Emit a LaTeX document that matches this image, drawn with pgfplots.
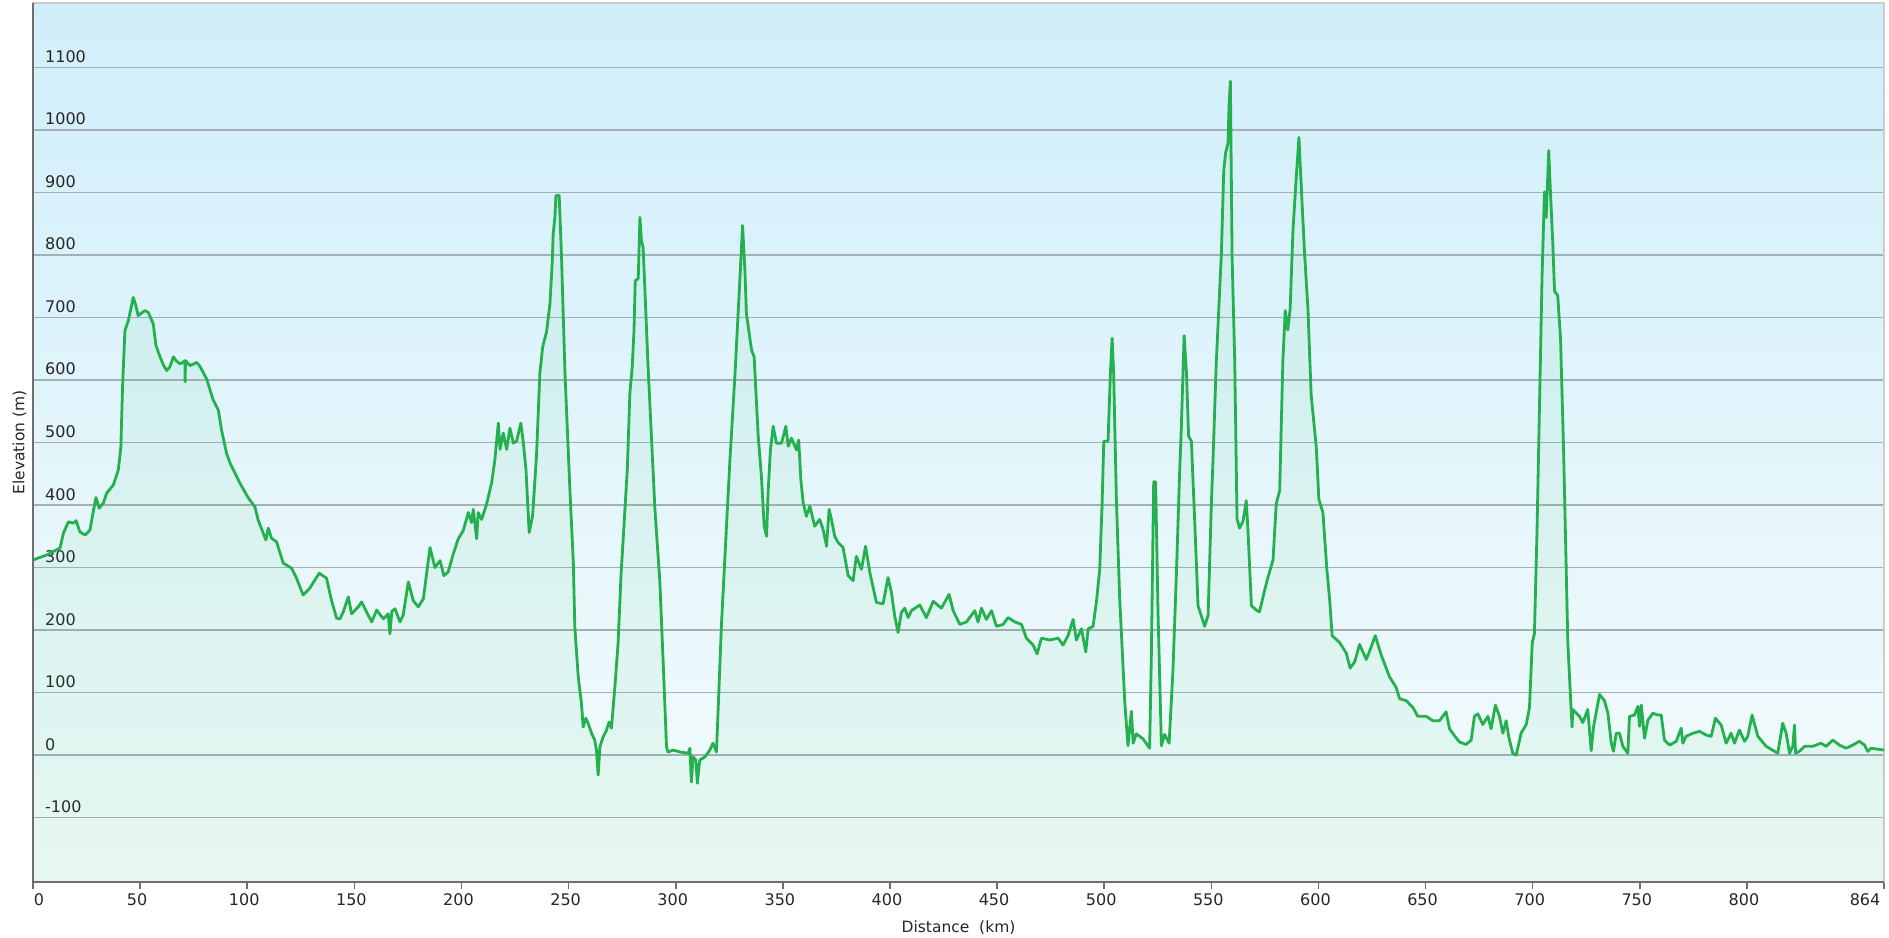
\documentclass[border=0pt]{standalone}
\usepackage{fontspec}
\setmainfont{DejaVu Sans}
\usepackage{pgfplots}
\pgfplotsset{compat=1.18}
\usepackage{pgfplotstable}
\definecolor{bgtop}{RGB}{208,238,250}
\definecolor{bgmid}{RGB}{228,245,251}
\definecolor{bgbot}{RGB}{245,252,252}
\definecolor{lineg}{RGB}{36,176,78}
\definecolor{fillg}{RGB}{40,190,90}
\definecolor{gridc}{RGB}{165,176,182}
\definecolor{axisc}{RGB}{110,110,110}
\definecolor{framec}{RGB}{205,205,205}

\pgfplotstableread{
km m
0 312
3 316
6.4 320
9 325
12.6 331
14.2 355
16.5 373
18.8 371
20.1 375
21.9 357
24.3 352
26.6 360
28.1 389
29.4 412
30.9 395
32.8 403
34.4 419
37.5 432
39.8 456
40.6 480
41 492
41.8 589
42.9 679
44.5 695
46.8 732
48 719
49.1 703
51 708
52.3 711
53.8 708
56.1 690
57.4 655
59.3 637
61 623
62.4 615
63.9 621
65.5 637
67 630
68.6 626
70 628
70.9 631
71.0 597
71.2 631
73.3 623
76.4 628
77.9 622
81 602
84.1 568
86.5 552
88 520
90.4 482
92 467
96.6 435
99.7 416
101.2 408
103.6 397
105.1 376
108.7 344
109.8 363
111.3 347
113.7 341
116.8 307
120.7 299
123 283
126.1 256
129.2 267
133.6 291
137 283
139.3 248
141.7 219
143.3 218
144.8 229
147.2 253
148.7 226
151.8 237
153.4 245
155.7 229
158.1 213
160.4 232
163.5 218
165.8 226
166.6 194
167.5 230
169 234
171.3 213
172.8 224
175.2 277
177.5 247
179.8 237
182.2 250
185.3 332
187.6 300
190 311
191.8 287
193.8 293
196.2 322
198.5 346
200.8 359
203.2 388
204.7 372
205.5 393
207.1 346
207.8 388
209.4 377
211.7 401
214.1 436
215.6 473
217.2 531
218 489
219.5 515
221.1 489
222.6 523
224.2 499
225.7 502
227.7 531
228.8 502
230.1 457
231.6 356
233.2 383
235 478
236.6 611
237.9 653
239.7 677
241.3 722
242.4 791
242.8 834
243.6 860
244.1 895
245.6 895
246.7 797
248.3 611
250.6 425
252.2 308
252.9 205
254.5 125
256 83
256.8 45
258 59
259.1 51
260.7 35
262.2 24
263 8
263.8 -32
264.6 13
266.1 29
267.7 40
268.9 53
270 43
271.6 109
273.1 179
274.5 290
276.3 393
277.4 457
278.6 579
279.7 621
280.5 677
281.1 759
282.5 762
283.3 860
284 823
284.8 812
287.1 621
290.3 393
292.6 277
294.1 152
295.7 13
296.4 5
298.8 8
301.9 5
305.8 3
306.6 11
307.3 -43
308.1 -3
309.4 -8
310.1 -45
311.2 -8
313.6 -3
315.9 8
317.4 19
319 5
319.8 72
321.3 205
322.9 313
325.3 472
327.6 605
329.6 738
331.2 847
332.3 775
333 706
335.4 648
336.6 637
338.5 510
340 446
341.3 366
342.4 350
343.1 419
344.2 488
345.5 526
347 499
349.4 499
351.4 526
352.5 494
354 507
356.4 488
357.4 504
358.4 441
359.5 403
361 382
362.6 398
364.9 366
367.2 377
368.8 361
370.4 334
371.6 393
372.7 377
374.2 350
375.8 340
378.1 332
380.5 287
382.8 279
384.3 318
386.7 297
388.6 334
390.6 292
393.7 244
396.8 242
399.1 284
400.7 260
402.2 223
403.8 196
405.3 228
406.9 235
408.5 220
410 231
413.9 240
417 220
420.2 246
424 235
427.6 257
429.5 231
432.6 209
435.7 213
439.6 231
441.1 213
442.7 235
445 217
447.4 231
449.7 206
452.8 209
455.1 220
458.3 213
461.4 209
463.7 187
466.8 176
468.7 162
470.7 187
474.6 184
478.5 187
480.8 176
483.1 191
485.5 217
487 184
489.4 202
491.4 165
492.5 202
494.8 206
496.4 246
497.9 297
499 400
499.8 502
501.8 502
502.9 612
503.7 667
504.4 612
505.7 407
507.2 253
509.6 85
511.1 15
512.7 70
513.5 19
515 34
518.1 26
521.2 11
522 158
523.1 437
524 437
525.1 231
526.7 15
528.2 33
530.3 19
532.1 136
533.7 290
535.2 451
536 524
537.3 671
538.4 612
539.4 510
540.7 502
542.2 378
543.8 239
546.9 206
548.5 224
550 400
550.8 473
552.3 627
554.7 803
555.8 935
556.7 964
557.8 979
558.3 1041
558.9 1078
559.7 796
560.9 634
562 378
563.2 363
564.8 374
566.3 407
567.1 360
568.7 239
571 232
572.5 229
574.9 264
576.4 284
578.8 312
580.3 402
581.9 423
583.4 631
584.5 711
585.7 680
586.8 714
588.1 839
589.6 922
590.9 988
592 908
593.5 804
595.1 714
596.6 576
599 492
600.2 409
602.1 388
603.9 298
605.2 250
606.4 191
609.9 180
613 163
614.8 139
616.9 149
619.2 177
622.3 153
624.3 170
626.5 191
629.3 160
633.2 125
636.3 108
637.9 90
641 87
644.1 76
646.4 62
650.3 62
653.4 55
656.5 55
659.6 69
661.2 42
663.5 31
665.8 21
668.9 17
671.3 24
672.8 62
674.4 66
676.7 49
679.1 62
680.6 42
682.6 80
684.5 62
686.1 35
687.6 55
688.9 28
690.7 3
692.3 0
694.6 35
697 49
698.5 76
699.8 180
700.8 194
702 354
703.2 562
704.4 770
705.5 901
706.3 860
707.5 967
708.1 915
709.4 818
710.2 742
711.7 735
713 666
714.4 492
716.4 180
717.9 76
718.4 45
718.7 73
721.8 62
723.4 52
725.7 73
727.3 7
728.4 45
731.2 97
733.5 87
735.1 67
736.7 19
737.7 6
739 35
740.5 35
742.1 14
744.4 3
745.2 62
747.5 64
749.1 78
749.9 46
750.7 80
752.2 27
753.8 56
756.1 67
758.4 64
760 64
761.5 24
763.9 16
767 22
769.3 43
770.1 19
771.6 30
774.8 35
777.9 38
781 32
783.3 30
785.3 59
788 48
790.3 19
792.6 35
794.2 19
796.5 40
798.9 22
800.4 30
802.4 64
805.1 30
809 14
814.4 3
816.7 51
818.3 35
819.9 3
821.4 14
822.2 48
822.7 3
824.5 6
826.9 14
830.7 14
834.6 19
837 14
840.1 24
843.2 16
846.3 11
849.4 16
852.5 22
854.9 16
856.4 6
858 11
864 8
}\elev

\begin{document}
\begin{tikzpicture}
\useasboundingbox (0,0) rectangle (1889bp,938bp);
\begin{axis}[
  name=ax,
  at={(33bp,56bp)}, anchor=south west,
  scale only axis, width=1851bp, height=879bp,
  xmin=0, xmax=864, ymin=-203, ymax=1203,
  axis background/.style={shade, top color=bgtop, middle color=bgmid, bottom color=bgbot},
  axis line style={draw=framec, line width=1.2bp},
  xtick={0,50,100,150,200,250,300,350,400,450,500,550,600,650,700,750,800,864},
  xticklabels={\hspace*{18bp}0,50,100,150,200,250,300,350,400,450,500,550,600,650,700,750,800,864\hspace*{32bp}},
  ytick={-100,0,100,200,300,400,500,600,700,800,900,1000,1100},
  xtick pos=bottom, xtick align=outside,
  major tick length=7bp,
  xtick style={draw=axisc, line width=1.6bp},
  ytick style={draw=none},
  ymajorgrids, xmajorgrids=false,
  major grid style={draw=gridc, line width=1.4bp},
  /pgf/number format/assume math mode=true,
  /pgf/number format/1000 sep={},
  ticklabel style={font=\fontsize{16bp}{19bp}\selectfont, text=black!85},
  yticklabel style={anchor=base west, inner sep=0pt, xshift=12bp, yshift=5bp},
  xticklabel style={anchor=north, inner sep=0pt, yshift=-4bp, xshift=-3bp},
  xlabel={Distance\ \ (km)},
  ylabel={Elevation (m)},
  label style={font=\fontsize{15.5bp}{18bp}\selectfont, text=black!85},
  xlabel style={at={(axis description cs:0.5,-0.0515)}, anchor=center},
  ylabel style={at={(axis description cs:-0.0073,0.5)}, anchor=center},
]
\addplot[draw=none, fill=fillg, fill opacity=0.065] table[x=km, y=m] {\elev}
  -- (axis cs:864,-203) -- (axis cs:0,-203) -- cycle;
\addplot[draw=lineg, line width=2.8bp, line join=round, no marks] table[x=km, y=m] {\elev};
\end{axis}
\draw[axisc, line width=2.2bp] (ax.north west) -- (ax.south west) -- (ax.south east);
\end{tikzpicture}
\end{document}
